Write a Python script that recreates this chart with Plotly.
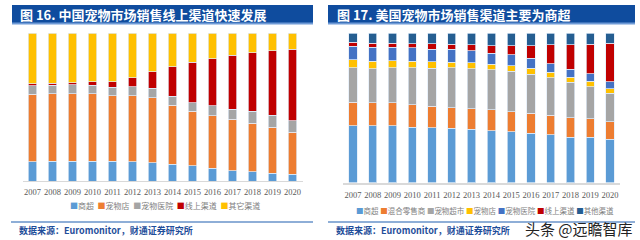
import plotly.graph_objects as go

W, H = 640, 240

years = ["2007", "2008", "2009", "2010", "2011", "2012", "2013",
         "2014", "2015", "2016", "2017", "2018", "2019", "2020"]

# Chart 16 - China pet market channels (%)
cn_names = ["商超", "宠物店", "宠物医院", "线上渠道", "其它渠道"]
cn_supermarket = [12.9, 13.3, 13.3, 13.3, 13.3, 12.9, 12.2, 11.3, 10.2, 8.6, 7.0, 6.3, 5.4, 4.5]
cn_petshop = [45.7, 45.7, 45.7, 45.7, 44.3, 44.8, 44.1, 40.0, 37.1, 35.5, 34.6, 32.6, 31.0, 28.5]
cn_vet = [5.7, 5.7, 6.1, 5.7, 5.9, 6.1, 6.3, 6.1, 5.7, 6.6, 7.0, 8.4, 8.1, 7.7]
cn_online = [1.4, 1.4, 1.4, 2.3, 3.4, 6.1, 11.1, 19.7, 27.1, 31.9, 36.4, 39.4, 43.4, 48.4]
cn_other = [34.3, 33.9, 33.5, 33.0, 33.1, 30.1, 26.3, 22.9, 19.9, 17.4, 15.0, 13.3, 12.1, 10.9]
cn_colors = ["#5B9BD5", "#ED7D31", "#A5A5A5", "#C00000", "#FFC000"]

# Chart 17 - US pet market channels (%)
us_names = ["商超", "混合零售商", "宠物超市", "宠物店", "宠物医院", "线上渠道", "其他渠道"]
us_supermarket = [37.8, 37.8, 38.0, 37.1, 36.7, 36.2, 35.6, 34.7, 34.0, 32.9, 31.8, 30.2, 30.2, 29.1]
us_mixed = [15.9, 15.4, 15.2, 14.8, 14.3, 13.9, 13.9, 13.9, 13.4, 13.4, 13.2, 13.2, 12.3, 11.6]
us_petsuper = [23.0, 22.8, 23.5, 24.8, 25.5, 26.6, 26.6, 26.8, 27.1, 26.2, 25.1, 23.5, 21.5, 19.0]
us_petshop = [5.4, 5.1, 4.9, 4.5, 4.3, 3.8, 4.0, 3.8, 3.6, 3.8, 3.6, 3.4, 3.6, 3.1]
us_vet = [8.9, 9.4, 8.9, 8.9, 8.5, 8.5, 8.1, 7.4, 7.2, 6.7, 5.8, 5.6, 5.1, 4.5]
us_online = [2.7, 2.7, 2.7, 2.7, 3.4, 3.4, 3.8, 4.9, 6.3, 8.5, 12.5, 16.1, 19.7, 26.0]
us_other = [6.3, 6.8, 6.8, 7.2, 7.3, 7.6, 8.0, 8.5, 8.4, 8.5, 8.0, 8.0, 7.6, 6.7]
us_colors = ["#5B9BD5", "#ED7D31", "#A5A5A5", "#FFC000", "#4472C4", "#C00000", "#255E91"]

titles = ["图 16. 中国宠物市场销售线上渠道快速发展", "图 17. 美国宠物市场销售渠道主要为商超"]
source = "数据来源：Euromonitor，财通证券研究所"
watermark = "头条 @远瞻智库"


def px(x):
    return x / W


def py(y):
    return 1 - y / H


fig = go.Figure()
edge = dict(color="rgba(225,235,248,0.9)", width=0.8)

cn_series = [cn_supermarket, cn_petshop, cn_vet, cn_online, cn_other]
for name, vals, col in zip(cn_names, cn_series, cn_colors):
    fig.add_trace(go.Bar(x=years, y=vals, name=name, marker=dict(color=col, line=edge),
                         xaxis="x", yaxis="y", showlegend=False))

us_series = [us_supermarket, us_mixed, us_petsuper, us_petshop, us_vet, us_online, us_other]
for name, vals, col in zip(us_names, us_series, us_colors):
    fig.add_trace(go.Bar(x=years, y=vals, name=name, marker=dict(color=col, line=edge),
                         xaxis="x2", yaxis="y2", showlegend=False))

tickfont = dict(family="Liberation Serif", size=8.5, color="#595959")

fig.update_layout(
    width=W, height=H,
    margin=dict(l=0, r=0, t=0, b=0),
    paper_bgcolor="white", plot_bgcolor="white",
    barmode="stack", bargap=0.58,
    xaxis=dict(domain=[px(22.5), px(302.5)], type="category", range=[-0.5, 13.5],
               showline=True, linecolor="#D9D9D9", linewidth=1, ticks="",
               tickangle=0, tickfont=tickfont, ticklabelstandoff=3,
               showgrid=False, fixedrange=True),
    yaxis=dict(domain=[py(181), py(33)], range=[0, 100], visible=False,
               showgrid=False, fixedrange=True),
    xaxis2=dict(domain=[px(343), px(620)], type="category", range=[-0.5, 13.5],
                showline=True, linecolor="#D9D9D9", linewidth=2, ticks="",
                tickangle=0, tickfont=tickfont, ticklabelstandoff=3,
                showgrid=False, fixedrange=True, anchor="y2"),
    yaxis2=dict(domain=[py(182.5), py(33)], range=[0, 100], visible=False,
                showgrid=False, fixedrange=True, anchor="x2"),
)

shapes = []
# title bars
for x0, x1 in [(12, 313), (328, 635)]:
    shapes.append(dict(type="rect", xref="paper", yref="paper", x0=px(x0), x1=px(x1),
                       y0=py(24), y1=py(5), fillcolor="#0F4C9E", line=dict(width=0)))
    shapes.append(dict(type="rect", xref="paper", yref="paper", x0=px(x0), x1=px(x1),
                       y0=py(24.5), y1=py(22.5), fillcolor="#6E9AD6", line=dict(width=0)))
# footer lines
shapes.append(dict(type="line", xref="paper", yref="paper", x0=px(11), x1=px(313),
                   y0=py(222), y1=py(222), line=dict(color="#1F5FAF", width=1.2)))
shapes.append(dict(type="line", xref="paper", yref="paper", x0=px(328), x1=px(635),
                   y0=py(222), y1=py(222), line=dict(color="#1F5FAF", width=1.2)))
fig.update_layout(shapes=shapes)

ann = []
for xl, t in [(18, titles[0]), (335, titles[1])]:
    ann.append(dict(xref="paper", yref="paper", x=px(xl), y=py(14.5), xanchor="left",
                    yanchor="middle", text="<b>" + t + "</b>", showarrow=False,
                    font=dict(family="Noto Sans CJK SC", size=13, color="white")))


def legend_text(names, colors, sep):
    parts = []
    for n, c in zip(names, colors):
        parts.append('<span style="color:%s">■</span>%s' % (c, n))
    return sep.join(parts)


ann.append(dict(xref="paper", yref="paper", x=px(164.5), y=py(205), xanchor="center",
                yanchor="middle", text=legend_text(cn_names, cn_colors, "&nbsp;&nbsp;"),
                showarrow=False, borderpad=0,
                font=dict(family="Noto Sans CJK SC", size=8, color="#7F7F7F")))
ann.append(dict(xref="paper", yref="paper", x=px(484.5), y=py(210), xanchor="center",
                yanchor="middle", text=legend_text(us_names, us_colors, " "),
                showarrow=False, borderpad=0,
                font=dict(family="Noto Sans CJK SC", size=7.5, color="#7F7F7F")))
for xl in [18, 335]:
    ann.append(dict(xref="paper", yref="paper", x=px(xl), y=py(230), xanchor="left",
                    yanchor="middle", text="<b>" + source + "</b>", showarrow=False,
                    borderpad=0,
                    font=dict(family="Noto Sans CJK SC", size=9, color="#1F4E9A")))
ann.append(dict(xref="paper", yref="paper", x=px(634), y=py(239.5), xanchor="right",
                yanchor="bottom", text=watermark, showarrow=False, borderpad=0,
                font=dict(family="Noto Sans CJK SC", size=15, color="#222222")))
fig.update_layout(annotations=ann)

fig.write_html("out.html")
